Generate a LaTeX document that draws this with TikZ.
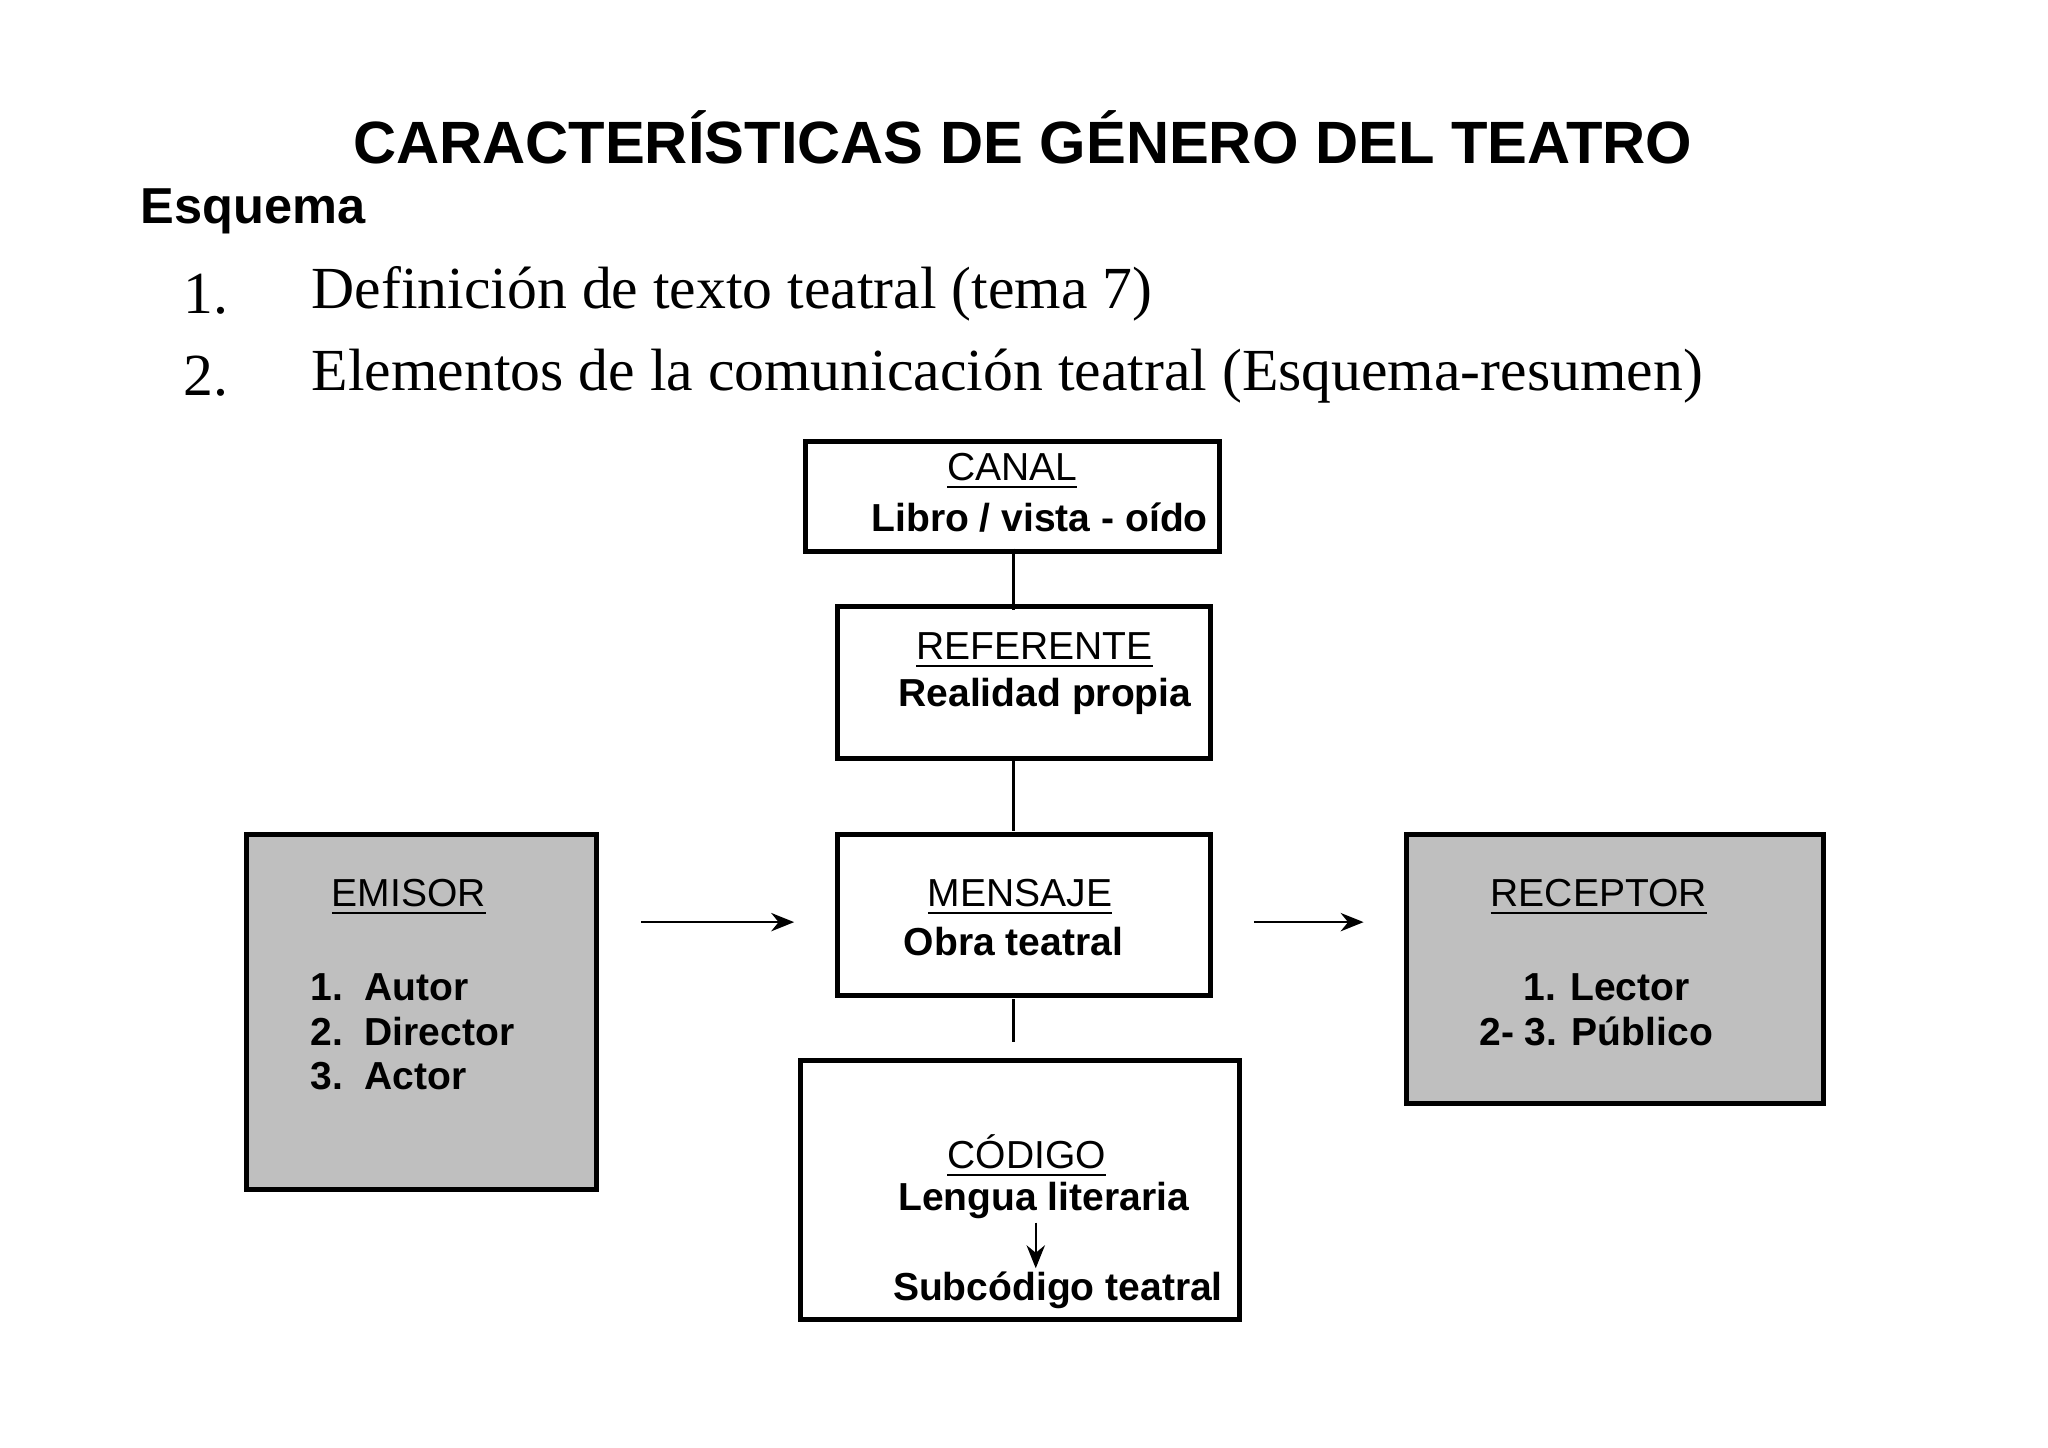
\documentclass[tikz,border=0pt]{standalone}
\usepackage{fontspec}
\setmainfont{Liberation Serif}
\setsansfont{Liberation Sans}
\usetikzlibrary{arrows.meta}
\begin{document}
\begin{tikzpicture}[x=0.01cm,y=-0.01cm,
  box/.style={draw,line width=1.1pt},
  lbl/.style={font=\sffamily\fontsize{8.5}{10}\selectfont,inner sep=0},
  bl/.style={font=\sffamily\bfseries\fontsize{8.5}{10}\selectfont,inner sep=0},
  conn/.style={line width=0.6pt},
  arr/.style={line width=0.5pt,-{Stealth[length=5pt,width=4pt]}}]
\useasboundingbox (0,0) rectangle (1568,1108);
\node[font=\sffamily\bfseries\fontsize{13}{15}\selectfont] (title) at (783,105) {CARACTERÍSTICAS DE GÉNERO DEL TEATRO};
\node[font=\sffamily\bfseries\fontsize{11}{13}\selectfont,anchor=west,inner sep=0] (esq) at (107,162) {Esquema};
\node[font=\fontsize{13}{15}\selectfont,anchor=west,inner sep=0] (n1) at (140,225) {1.};
\node[font=\fontsize{13}{15}\selectfont,anchor=west,inner sep=0] (t1) at (238,225) {Definición de texto teatral (tema 7)};
\node[font=\fontsize{13}{15}\selectfont,anchor=west,inner sep=0] (n2) at (140,288) {2.};
\node[font=\fontsize{13}{15}\selectfont,anchor=west,inner sep=0] (t2) at (238,288) {Elementos de la comunicación teatral (Esquema-resumen)};
% boxes
\draw[box] (617,338) rectangle (934,422);
\node[lbl] (canal) at (775,361) {\underline{CANAL}};
\node[bl] (canal2) at (796,396) {Libro / vista - oído};
\draw[box] (641,464) rectangle (927,581);
\node[lbl] (ref) at (792,498) {\underline{REFERENTE}};
\node[bl] (ref2) at (800,533) {Realidad propia};
\draw[box] (641,639) rectangle (927,762);
\node[lbl] (men) at (781,687) {\underline{MENSAJE}};
\node[bl] (men2) at (776,721) {Obra teatral};
\draw[box] (613,812) rectangle (949,1010);
\node[lbl] (cod) at (786,885) {\underline{CÓDIGO}};
\node[bl] (cod2) at (799,919) {Lengua literaria};
\node[bl] (cod3) at (810,988) {Subcódigo teatral};
\draw[box,fill=black!25] (189,639) rectangle (457,911);
\node[lbl] (emi) at (313,687) {\underline{EMISOR}};
\node[bl,anchor=west] (e1) at (237,756) {1.\ \ Autor};
\node[bl,anchor=west] (e2) at (237,790) {2.\ \ Director};
\node[bl,anchor=west] (e3) at (237,824) {3.\ \ Actor};
\draw[box,fill=black!25] (1077,639) rectangle (1396,845);
\node[lbl] (rec) at (1224,687) {\underline{RECEPTOR}};
\node[bl] (r1) at (1230,756) {1. Lector};
\node[bl] (r2) at (1222,790) {2- 3. Público};
% connectors
\coordinate (a1) at (776,420); \coordinate (a2) at (776,467);
\coordinate (b1) at (776,581); \coordinate (b2) at (776,636);
\coordinate (c1) at (776,765); \coordinate (c2) at (776,798);
\coordinate (d1) at (491,706); \coordinate (d2) at (608,706);
\coordinate (e1c) at (960,706); \coordinate (e2c) at (1044,706);
\coordinate (f1) at (793,936); \coordinate (f2) at (793,971);
\draw[conn] (a1) -- (a2);
\draw[conn] (b1) -- (b2);
\draw[conn] (c1) -- (c2);
\draw[arr] (d1) -- (d2);
\draw[arr] (e1c) -- (e2c);
\draw[arr] (f1) -- (f2);
\end{tikzpicture}
\end{document}
